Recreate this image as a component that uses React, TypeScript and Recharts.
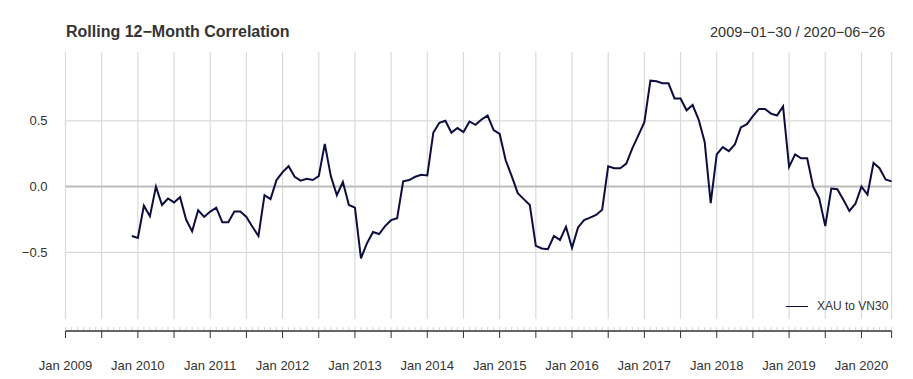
import React from "react";
import { CartesianGrid, Line, LineChart, ReferenceLine, XAxis, YAxis } from "recharts";

// month-end observations, Jan 2009 .. Jun 2020 (first 11 months have no 12-month window yet)
const yearLabels = [
  "Jan 2009", "Jan 2010", "Jan 2011", "Jan 2012", "Jan 2013", "Jan 2014",
  "Jan 2015", "Jan 2016", "Jan 2017", "Jan 2018", "Jan 2019", "Jan 2020",
];

const corr2009 = [null, null, null, null, null, null, null, null, null, null, null, -0.375];
const corr2010 = [-0.39, -0.145, -0.225, 0.0, -0.14, -0.09, -0.12, -0.08, -0.25, -0.34, -0.18, -0.23];
const corr2011 = [-0.19, -0.16, -0.27, -0.27, -0.19, -0.19, -0.23, -0.305, -0.375, -0.065, -0.095, 0.05];
const corr2012 = [0.11, 0.155, 0.075, 0.045, 0.06, 0.05, 0.08, 0.325, 0.08, -0.065, 0.035, -0.14];
const corr2013 = [-0.16, -0.545, -0.43, -0.345, -0.36, -0.3, -0.255, -0.24, 0.04, 0.05, 0.075, 0.09];
const corr2014 = [0.085, 0.41, 0.485, 0.5, 0.41, 0.445, 0.415, 0.495, 0.47, 0.51, 0.54, 0.43];
const corr2015 = [0.4, 0.2, 0.08, -0.05, -0.095, -0.14, -0.45, -0.47, -0.475, -0.375, -0.405, -0.305];
const corr2016 = [-0.465, -0.31, -0.255, -0.235, -0.215, -0.175, 0.155, 0.14, 0.14, 0.175, 0.29, 0.39];
const corr2017 = [0.49, 0.805, 0.8, 0.785, 0.785, 0.67, 0.67, 0.58, 0.62, 0.51, 0.34, -0.125];
const corr2018 = [0.245, 0.3, 0.27, 0.32, 0.45, 0.475, 0.535, 0.59, 0.59, 0.555, 0.54, 0.61];
const corr2019 = [0.15, 0.245, 0.215, 0.215, 0.0, -0.09, -0.3, -0.015, -0.02, -0.1, -0.185, -0.13];
const corr2020 = [0.0, -0.06, 0.18, 0.14, 0.055, 0.04];

const yTicks = [-0.5, 0, 0.5];
const yDomain = [-1.006, 1.023];

const corr = [
  ...corr2009, ...corr2010, ...corr2011, ...corr2012, ...corr2013, ...corr2014,
  ...corr2015, ...corr2016, ...corr2017, ...corr2018, ...corr2019, ...corr2020,
];
const data = corr.map((v, i) => ({ i, corr: v }));
const last = data.length - 1;
const monthTicks = data.map((d) => d.i);
const halfYears = monthTicks.filter((i) => i % 6 === 0 || i === last);

const FONT = "'Liberation Sans', Arial, Helvetica, sans-serif";
const INK = "#333333";
const LINE = "#0d0d40";

function MonthTick(props: any) {
  const { x, y, payload } = props;
  const i = payload.value;
  const major = i % 6 === 0 || i === last;
  const label = i % 12 === 0 ? yearLabels[i / 12] : null;
  return (
    <g>
      <line x1={x} x2={x} y1={y - 4} y2={y - 1} stroke="#d4d4d4" />
      {major && <line x1={x} x2={x} y1={y} y2={y + 7} stroke={INK} />}
      {label && (
        <text x={x} y={y + 39} textAnchor="middle" fontSize={13} fill={INK} fontFamily={FONT}>
          {label}
        </text>
      )}
    </g>
  );
}

// grid follows the axis scales (x: every half year, y: the labelled ticks)
const vGrid = ({ xAxis, offset }: any) =>
  halfYears.map((v) =>
    xAxis && typeof xAxis.scale === "function" ? xAxis.scale(v) : offset.left + (v / last) * offset.width
  );
const hGrid = ({ yAxis, offset }: any) =>
  yTicks.map((v) =>
    yAxis && typeof yAxis.scale === "function"
      ? yAxis.scale(v)
      : offset.top + ((yDomain[1] - v) / (yDomain[1] - yDomain[0])) * offset.height
  );

export default function App() {
  return (
    <div style={{ position: "absolute", left: 0, top: 0, width: 913, height: 379, background: "#fff", fontFamily: FONT }}>
      <div style={{ position: "absolute", left: 66, top: 23.5, fontSize: 16, lineHeight: "16px", fontWeight: "bold", color: INK }}>
        Rolling 12−Month Correlation
      </div>
      <div style={{ position: "absolute", right: 28, top: 24.5, fontSize: 14.5, lineHeight: "14.5px", color: INK }}>
        2009−01−30 / 2020−06−26
      </div>
      <LineChart width={913} height={379} data={data} margin={{ top: 52, right: 21.4, bottom: 0, left: 0 }}>
        <CartesianGrid
          stroke="#dadada"
          strokeWidth={1.2}
          verticalCoordinatesGenerator={vGrid}
          horizontalCoordinatesGenerator={hGrid}
        />
        <ReferenceLine y={0} stroke="#bdbdbd" strokeWidth={2} />
        <XAxis
          xAxisId={0}
          dataKey="i"
          type="number"
          domain={[0, last]}
          ticks={halfYears}
          interval={0}
          height={12}
          tick={false}
          axisLine={false}
          tickLine={false}
        />
        <XAxis
          xAxisId="main"
          dataKey="i"
          type="number"
          domain={[0, last]}
          ticks={monthTicks}
          interval={0}
          height={48}
          tickSize={0}
          tickMargin={0}
          tickLine={false}
          axisLine={{ stroke: INK, strokeWidth: 1.5 }}
          tick={<MonthTick />}
        />
        <YAxis
          type="number"
          domain={yDomain}
          ticks={yTicks}
          width={65.5}
          axisLine={false}
          tickLine={false}
          tickSize={0}
          tickMargin={18}
          tick={{ fontSize: 13, fill: INK, fontFamily: FONT }}
          tickFormatter={(v: number) => (v < 0 ? "−" + Math.abs(v).toFixed(1) : v.toFixed(1))}
        />
        <Line
          xAxisId={0}
          dataKey="corr"
          name="XAU to VN30"
          stroke={LINE}
          strokeWidth={2}
          dot={false}
          activeDot={false}
          isAnimationActive={false}
        />
      </LineChart>
      <div style={{ position: "absolute", left: 786, top: 298, display: "flex", alignItems: "center", fontSize: 12, lineHeight: "16px", color: INK }}>
        <span style={{ display: "inline-block", width: 22, height: 0, borderTop: `1.5px solid ${LINE}`, marginRight: 9 }} />
        XAU to VN30
      </div>
    </div>
  );
}
